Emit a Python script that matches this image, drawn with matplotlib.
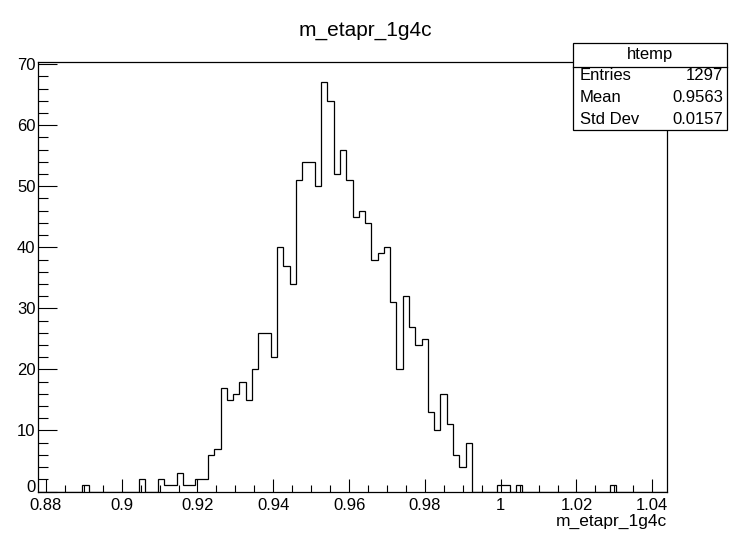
import numpy as np
import matplotlib
matplotlib.use("Agg")
import matplotlib.pyplot as plt
import matplotlib.transforms as mtransforms
from matplotlib.patches import Rectangle
from matplotlib.lines import Line2D
from matplotlib.ticker import MultipleLocator

plt.rcParams['font.family'] = ['Liberation Sans', 'DejaVu Sans']

# ---- data ----
title = "m_etapr_1g4c"
x_label = "m_etapr_1g4c"
hist_name = "htemp"
x_min, x_max, n_bins = 0.878, 1.0438, 100
counts = [
    0, 0, 0, 0, 0, 0, 0, 1, 0, 0,
    0, 0, 0, 0, 0, 0, 2, 0, 0, 2,
    1, 1, 3, 1, 1, 2, 2, 6, 7, 17,
    15, 16, 18, 15, 20, 26, 26, 22, 40, 37,
    34, 51, 54, 54, 50, 67, 64, 52, 56, 51,
    45, 46, 44, 38, 39, 40, 31, 20, 32, 27,
    24, 25, 13, 10, 16, 11, 6, 4, 8, 0,
    0, 0, 0, 1, 1, 0, 1, 0, 0, 0,
    0, 0, 0, 0, 0, 0, 0, 0, 0, 0,
    0, 1, 0, 0, 0, 0, 0, 0, 0, 0,
]
stat_labels = ["Entries", "Mean", "Std Dev"]
stat_values = ["1297", "0.9563", "0.0157"]
x_ticks = [0.88, 0.90, 0.92, 0.94, 0.96, 0.98, 1.00, 1.02, 1.04]
x_tick_labels = ["0.88", "0.9", "0.92", "0.94", "0.96", "0.98", "1", "1.02", "1.04"]
y_ticks = [0, 10, 20, 30, 40, 50, 60, 70]

W, H = 730, 533
fig = plt.figure(figsize=(W / 100, H / 100), dpi=100)
fig.patch.set_facecolor("white")

def fx(px):
    return px / W

def fy(py):
    return 1 - py / H

left, right, top, bottom = 38.3, 666.7, 62.0, 491.5
ax = fig.add_axes([fx(left), fy(bottom), fx(right - left), (bottom - top) / H])

edges = np.linspace(x_min, x_max, n_bins + 1)
ax.stairs(counts, edges, color="black", linewidth=0.9, baseline=0)

ax.set_xlim(x_min, x_max)
ax.set_ylim(0, max(counts) * 1.05)

ax.set_xticks(x_ticks)
ax.set_xticklabels(x_tick_labels)
ax.xaxis.set_minor_locator(MultipleLocator(0.005))
ax.set_yticks(y_ticks)
ax.yaxis.set_minor_locator(MultipleLocator(2))

ax.tick_params(axis="x", which="major", direction="in", length=9.3, width=0.8,
               labelsize=12, pad=4.5, top=False)
ax.tick_params(axis="x", which="minor", direction="in", length=4.7, width=0.8, top=False)
ax.tick_params(axis="y", which="major", direction="in", length=13.7, width=0.8,
               labelsize=12, pad=2, right=False)
ax.tick_params(axis="y", which="minor", direction="in", length=6.9, width=0.8, right=False)
for s in ax.spines.values():
    s.set_linewidth(0.9)
    s.set_color("black")

# lift the "0" label slightly, as in the reference
zero_lbl = ax.get_yticklabels()[0]
zero_lbl.set_transform(zero_lbl.get_transform() +
                       mtransforms.ScaledTranslation(0, 5 / 100, fig.dpi_scale_trans))

fig.text(0.5, fy(30), title, ha="center", va="center", fontsize=15)
fig.text(fx(right), fy(521), x_label, ha="right", va="center", fontsize=12.5)

# stats box
bx0, bx1, by0, by1 = 573, 727, 43, 129.5
fig.patches.append(Rectangle((fx(bx0), fy(by1)), fx(bx1 - bx0), (by1 - by0) / H,
                             transform=fig.transFigure, facecolor="white",
                             edgecolor="black", linewidth=0.9, zorder=10))
fig.lines.append(Line2D([fx(bx0), fx(bx1)], [fy(66.7), fy(66.7)],
                        transform=fig.transFigure, color="black", linewidth=0.9, zorder=11))
fig.text(fx((bx0 + bx1) / 2), fy(55), hist_name, ha="center", va="center",
         fontsize=12, zorder=12)
row_y = [76, 97.5, 119]
for lab, val, yy in zip(stat_labels, stat_values, row_y):
    fig.text(fx(580), fy(yy), lab, ha="left", va="center", fontsize=12, zorder=12)
    fig.text(fx(723), fy(yy), val, ha="right", va="center", fontsize=12, zorder=12)

fig.savefig("out.png", dpi=100)
